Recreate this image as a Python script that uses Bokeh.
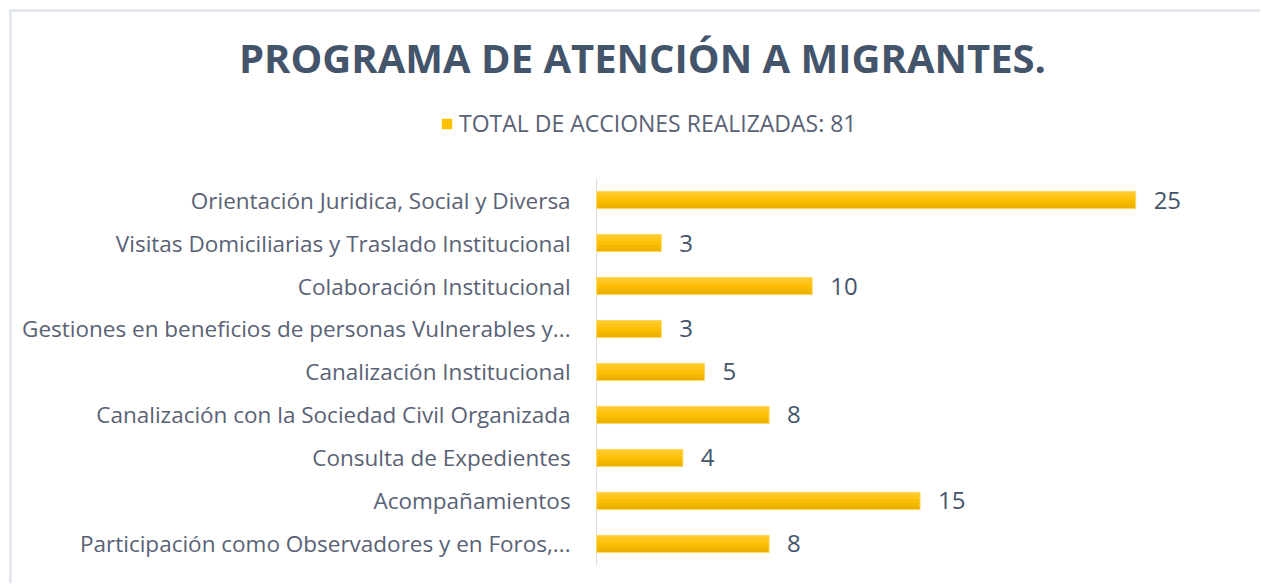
from bokeh.plotting import figure
from bokeh.models import Legend, LegendItem, ColumnDataSource, Range1d, FactorRange, Label
from bokeh.transform import dodge
from bokeh.core.properties import value
from bokeh.embed import file_html
from bokeh.resources import INLINE

title_text = "PROGRAMA DE ATENCIÓN A MIGRANTES."
series_name = "TOTAL DE ACCIONES REALIZADAS: 81"
categories = [
    "Orientación Juridica, Social y Diversa",
    "Visitas Domiciliarias y Traslado Institucional",
    "Colaboración Institucional",
    "Gestiones en beneficios de personas Vulnerables y...",
    "Canalización Institucional",
    "Canalización con la Sociedad Civil Organizada",
    "Consulta de Expedientes",
    "Acompañamientos",
    "Participación como Observadores y en Foros,...",
]
values = [25, 3, 10, 3, 5, 8, 4, 15, 8]

FONT = "Open Sans"
BAR = "#FFC000"
W, H = 1251, 574
BORDER = "3px solid #e3e8ef"

# header room above the first category: empty factors (no marks drawn on them)
header_space = [" ", "  ", "   "]
factors = categories[::-1] + header_space

src = ColumnDataSource(dict(cat=categories, val=values, lbl=[str(v) for v in values]))

p = figure(
    width=W, height=H, output_backend="svg", toolbar_location=None,
    x_range=Range1d(-27.09, 30.93),
    y_range=FactorRange(*factors, range_padding=0.49, range_padding_units="absolute"),
    x_axis_type=None, y_axis_type=None,
    min_border_left=0, min_border_right=0, min_border_top=16, min_border_bottom=0,
)
p.styles = {"border-top": BORDER, "border-left": BORDER,
            "margin-top": "9px", "margin-left": "9px"}
p.outline_line_color = None
p.background_fill_color = "white"
p.border_fill_color = "white"
p.grid.visible = False

# category axis: line at value 0 spanning the categories, labels to its left
axis_src = ColumnDataSource(dict(x=[0], y0=[categories[-1]], y1=[categories[0]]))
p.segment(x0="x", x1="x", y0=dodge("y0", -0.5, range=p.y_range),
          y1=dodge("y1", 0.5, range=p.y_range), source=axis_src,
          line_color="#d9dde3", line_width=1)
p.text(x=0, y="cat", text="cat", source=src, x_offset=-26,
       text_align="right", text_baseline="middle",
       text_font=value(FONT), text_font_size="22.5px", text_color="#596275")

BH = 0.4
base = p.hbar(y="cat", right="val", left=0, height=BH, source=src,
              fill_color=BAR, line_color=None)
band_colors = ["#FFCB2C", "#FFC51A", "#FCBF08", "#F4B800", "#ECB100"]
n = len(band_colors)
bh = BH / n
for i, c in enumerate(band_colors):
    off = BH / 2 - bh * (i + 0.5)
    p.hbar(y=dodge("cat", off, range=p.y_range), right="val", left=0, height=bh * 1.02,
           source=src, fill_color=c, line_color=None)
p.hbar(y="cat", right="val", left=0, height=BH, source=src,
       fill_color=None, line_color="#FFD966", line_width=1)

p.text(x="val", y="cat", text="lbl", source=src, x_offset=18,
       text_align="left", text_baseline="middle",
       text_font=value(FONT), text_font_size="24px", text_color="#44546a")

p.add_layout(Label(x=630, y=529, x_units="screen", y_units="screen", text=title_text,
                   text_font=FONT, text_font_size="40px", text_font_style="bold",
                   text_color="#44546a", text_align="center", text_baseline="middle"))

legend = Legend(items=[LegendItem(label=series_name, renderers=[base])],
                location=(428, 447), orientation="horizontal",
                glyph_width=13, glyph_height=13, label_standoff=6, padding=0, margin=0,
                label_text_font=FONT, label_text_font_size="23px", label_text_color="#596275",
                border_line_color=None, background_fill_alpha=0, label_height=20)
p.add_layout(legend, "center")

open("out.html", "w").write(file_html(p, INLINE))
